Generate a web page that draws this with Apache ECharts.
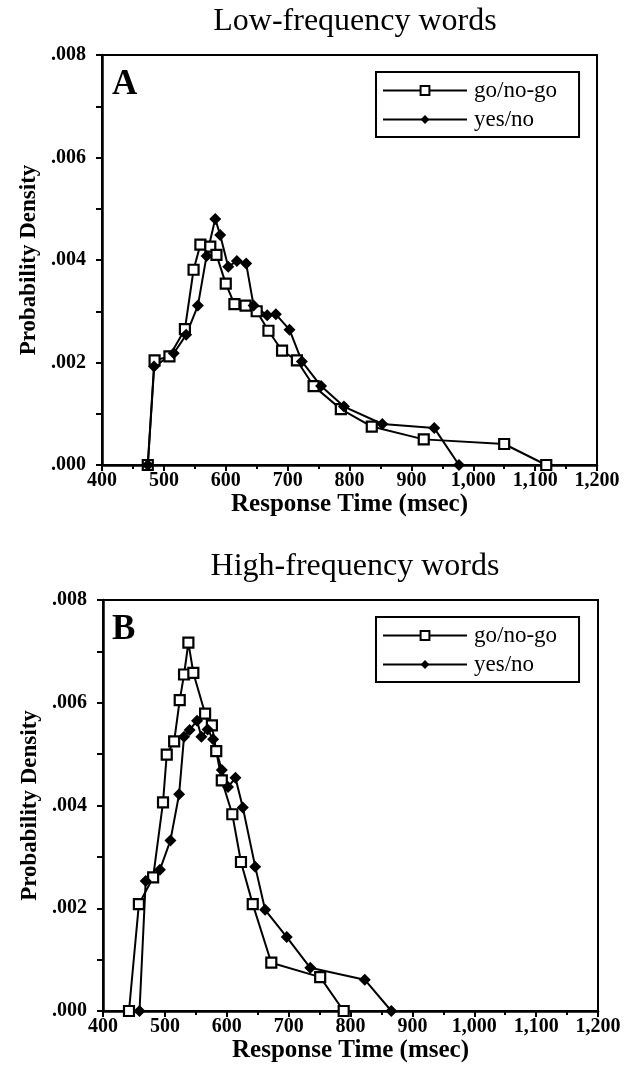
<!DOCTYPE html>
<html>
<head>
<meta charset="utf-8">
<script src="https://cdn.jsdelivr.net/npm/echarts@6/dist/echarts.min.js"></script>
<style>
html,body{margin:0;padding:0;background:#fff;}
#chart{width:628px;height:1079px;}
</style>
</head>
<body>
<div id="chart"></div>
<script>
// Panel A: Low-frequency words  [response time (ms), probability density]
const lowGoRT   = [474, 485, 509, 534, 548, 559, 575, 585, 600, 614, 632, 650, 669, 691, 715, 742, 786, 836, 920, 1050, 1118];
const lowGoPD   = [0, 0.00204, 0.00212, 0.00265, 0.00381, 0.00430, 0.00426, 0.00410, 0.00354, 0.00314, 0.00311, 0.00300, 0.00262, 0.00223, 0.00204, 0.00154, 0.00109, 0.00075, 0.00050, 0.00041, 0];
const lowYesRT  = [474, 484, 516, 536, 555, 569, 583, 591, 604, 618, 633, 645, 667, 681, 703, 723, 754, 791, 853, 937, 977];
const lowYesPD  = [0, 0.00192, 0.00218, 0.00254, 0.00311, 0.00408, 0.00480, 0.00449, 0.00387, 0.00398, 0.00393, 0.00311, 0.00292, 0.00294, 0.00264, 0.00202, 0.00154, 0.00114, 0.00080, 0.00072, 0];
// Panel B: High-frequency words
const highGoRT  = [442, 458, 481, 497, 503, 515, 524, 531, 538, 546, 565, 576, 583, 592, 609, 623, 642, 672, 751, 789];
const highGoPD  = [0, 0.00208, 0.00260, 0.00406, 0.00499, 0.00525, 0.00605, 0.00655, 0.00717, 0.00658, 0.00579, 0.00556, 0.00506, 0.00449, 0.00383, 0.00290, 0.00208, 0.00094, 0.00066, 0];
const highYesRT = [459, 469, 492, 509, 523, 531, 540, 552, 559, 569, 578, 592, 602, 614, 626, 646, 662, 697, 735, 823, 866];
const highYesPD = [0, 0.00253, 0.00275, 0.00332, 0.00422, 0.00534, 0.00547, 0.00565, 0.00534, 0.00548, 0.00529, 0.00469, 0.00436, 0.00454, 0.00396, 0.00281, 0.00197, 0.00144, 0.00084, 0.00061, 0];

const panelTitles = ['Low-frequency words', 'High-frequency words'];
const panelLetters = ['A', 'B'];
const seriesNames = ['go/no-go', 'yes/no'];
const xTitle = 'Response Time (msec)';
const yTitle = 'Probability Density';

const SERIF = '"Liberation Serif", "Times New Roman", serif';

function zip(a, b) { return a.map((v, i) => [v, b[i]]); }

const chart = echarts.init(document.getElementById('chart'), null, {renderer: 'canvas'});

const grids = [
  {left: 102, top: 55, width: 495, height: 410},
  {left: 103, top: 600, width: 495, height: 411}
];

function xAxisCfg(gi) {
  return {
    type: 'value', gridIndex: gi, min: 400, max: 1200, interval: 100,
    name: xTitle, nameLocation: 'middle', nameGap: 22,
    nameTextStyle: {fontFamily: SERIF, fontWeight: 'bold', fontSize: 25, color: '#000'},
    axisLine: {lineStyle: {color: '#000', width: 2.5}},
    axisTick: {length: 6, lineStyle: {color: '#000', width: 2}},
    minorTick: {show: true, splitNumber: 2, length: 4, lineStyle: {color: '#000', width: 2}},
    splitLine: {show: false},
    axisLabel: {fontFamily: SERIF, fontWeight: 'bold', fontSize: 20, color: '#000', margin: 6,
      formatter: v => v.toLocaleString('en-US')}
  };
}
function yAxisCfg(gi) {
  return {
    type: 'value', gridIndex: gi, min: 0, max: 0.008, interval: 0.001,
    name: yTitle, nameLocation: 'middle', nameGap: 60,
    nameTextStyle: {fontFamily: SERIF, fontWeight: 'bold', fontSize: 23, color: '#000'},
    axisLine: {lineStyle: {color: '#000', width: 2.5}},
    axisTick: {length: 6, lineStyle: {color: '#000', width: 2}},
    splitLine: {show: false},
    axisLabel: {fontFamily: SERIF, fontWeight: 'bold', fontSize: 20, color: '#000', margin: 16,
      formatter: v => { const k = Math.round(v * 1000); return k % 2 === 0 ? '.' + String(k).padStart(3, '0') : ''; }}
  };
}

const goStyle = {symbol: 'rect', symbolSize: 10, itemStyle: {color: '#fff', borderColor: '#000', borderWidth: 2.2}};
const yesStyle = {symbol: 'diamond', symbolSize: 12, itemStyle: {color: '#000', borderColor: '#000', borderWidth: 0}};

function lineSeries(name, data, gi, st) {
  return Object.assign({
    type: 'line', name: name, xAxisIndex: gi, yAxisIndex: gi, data: data,
    showAllSymbol: true, animation: false,
    lineStyle: {color: '#000', width: 2}
  }, st);
}

const legendCfg = top => ({
  orient: 'vertical', left: 376, top: top, width: 202,
  data: seriesNames, selectedMode: false,
  itemWidth: 84, itemHeight: 11, itemGap: 6,
  padding: [7, 22, 6, 6],
  borderColor: '#000', borderWidth: 2,
  textStyle: {fontFamily: SERIF, fontSize: 23, color: '#000', padding: [0, 0, 0, 2]}
});

chart.setOption({
  backgroundColor: '#fff',
  animation: false,
  title: [
    {text: panelTitles[0], left: 350, top: 1, textAlign: 'center',
      textStyle: {fontFamily: SERIF, fontWeight: 'normal', fontSize: 32, color: '#000'}},
    {text: panelTitles[1], left: 350, top: 546, textAlign: 'center',
      textStyle: {fontFamily: SERIF, fontWeight: 'normal', fontSize: 32, color: '#000'}}
  ],
  grid: grids.map(g => Object.assign({show: true, borderColor: '#000', borderWidth: 2, backgroundColor: 'transparent'}, g)),
  xAxis: [xAxisCfg(0), xAxisCfg(1)],
  yAxis: [yAxisCfg(0), yAxisCfg(1)],
  legend: [legendCfg(72), legendCfg(617)],
  graphic: [
    {type: 'text', left: 112, top: 67, style: {text: panelLetters[0], font: 'bold 35px ' + SERIF, fill: '#000'}},
    {type: 'text', left: 112, top: 612, style: {text: panelLetters[1], font: 'bold 35px ' + SERIF, fill: '#000'}}
  ],
  series: [
    lineSeries(seriesNames[0], zip(lowGoRT, lowGoPD), 0, goStyle),
    lineSeries(seriesNames[1], zip(lowYesRT, lowYesPD), 0, yesStyle),
    lineSeries(seriesNames[0], zip(highGoRT, highGoPD), 1, goStyle),
    lineSeries(seriesNames[1], zip(highYesRT, highYesPD), 1, yesStyle)
  ]
});
</script>
</body>
</html>
